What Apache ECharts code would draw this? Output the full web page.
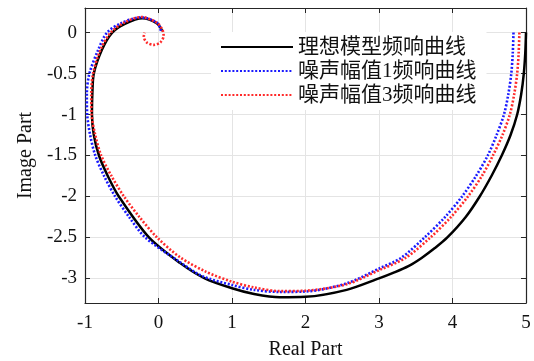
<!DOCTYPE html>
<html><head><meta charset="utf-8">
<script src="https://cdn.jsdelivr.net/npm/echarts@6/dist/echarts.min.js"></script>
<style>html,body{margin:0;padding:0;background:#fff}#c{width:534px;height:361px}</style>
</head><body><div id="c"></div>
<script>
const seriesNames = ['理想模型频响曲线', '噪声幅值1频响曲线', '噪声幅值3频响曲线'];

const idealX = [5.00, 4.99, 4.97, 4.935, 4.88, 4.79, 4.67, 4.53, 4.37, 4.18, 3.93, 3.76, 3.58, 3.40, 3.20, 3.00, 2.56, 2.00, 1.65, 1.30, 1.00, 0.63, 0.29, -0.13, -0.54, -0.69, -0.81, -0.88, -0.905, -0.90, -0.88, -0.77, -0.63, -0.45, -0.22, -0.02, 0.05];
const idealY = [0.00, -0.25, -0.50, -0.75, -1.00, -1.25, -1.50, -1.75, -2.00, -2.25, -2.50, -2.63, -2.75, -2.85, -2.93, -3.00, -3.14, -3.225, -3.23, -3.19, -3.12, -3.00, -2.81, -2.50, -2.00, -1.75, -1.50, -1.25, -1.00, -0.75, -0.50, -0.21, 0.00, 0.11, 0.174, 0.11, 0.02];

const noise1X = [4.83, 4.82, 4.80, 4.76, 4.70, 4.60, 4.48, 4.32, 4.13, 3.90, 3.62, 3.30, 3.00, 2.56, 2.00, 1.65, 1.30, 1.00, 0.59, 0.29, -0.18, -0.40, -0.59, -0.74, -0.86, -0.93, -0.97, -0.975, -0.94, -0.82, -0.70, -0.52, -0.24, -0.02, 0.04];
const noise1Y = [0.00, -0.25, -0.50, -0.75, -1.00, -1.25, -1.50, -1.75, -2.00, -2.25, -2.50, -2.75, -2.88, -3.06, -3.16, -3.165, -3.14, -3.08, -2.97, -2.80, -2.50, -2.25, -2.00, -1.75, -1.50, -1.25, -1.00, -0.75, -0.50, -0.21, 0.00, 0.11, 0.186, 0.12, 0.00];

const noise3X = [4.91, 4.90, 4.88, 4.84, 4.78, 4.68, 4.55, 4.40, 4.21, 3.98, 3.70, 3.36, 3.00, 2.56, 2.00, 1.65, 1.30, 1.00, 0.65, 0.29, -0.02, -0.26, -0.47, -0.64, -0.78, -0.86, -0.91, -0.915, -0.89, -0.79, -0.65, -0.47, -0.23, -0.02, 0.05, 0.07, 0.025, -0.065, -0.16, -0.20, -0.19];
const noise3Y = [0.00, -0.25, -0.50, -0.75, -1.00, -1.25, -1.50, -1.75, -2.00, -2.25, -2.50, -2.75, -2.90, -3.07, -3.15, -3.155, -3.11, -3.04, -2.92, -2.74, -2.50, -2.25, -2.00, -1.75, -1.50, -1.25, -1.00, -0.75, -0.50, -0.21, 0.00, 0.12, 0.19, 0.12, 0.04, -0.04, -0.12, -0.15, -0.12, -0.05, 0.00];

function pairs(xs, ys) { return xs.map((x, i) => [x, ys[i]]); }

const serif = '"Liberation Serif", "Times New Roman", serif';
const cjk = '"Liberation Serif", "Noto Sans CJK SC", serif';
const frame = { show: true, onZero: false, lineStyle: { color: '#262626', width: 1.2 } };
const tick = { show: true, inside: true, length: 5, lineStyle: { color: '#262626', width: 1 } };
const grid = { show: true, lineStyle: { color: '#e4e4e4', width: 1 } };

const chart = echarts.init(document.getElementById('c'), null, { renderer: 'canvas' });
chart.setOption({
  animation: false,
  backgroundColor: '#fff',
  grid: { left: 85, right: 8, top: 8, bottom: 58, containLabel: false, outerBoundsMode: 'none' },
  xAxis: [
    { type: 'value', min: -1, max: 5, interval: 1, position: 'bottom',
      axisLine: frame, axisTick: tick, splitLine: grid,
      axisLabel: { fontFamily: serif, fontSize: 19, color: '#111', margin: 11 },
      name: 'Real Part', nameLocation: 'middle', nameGap: 37,
      nameTextStyle: { fontFamily: serif, fontSize: 20, color: '#111' } },
    { type: 'value', min: -1, max: 5, interval: 1, position: 'top',
      axisLine: frame, axisTick: tick, splitLine: { show: false }, axisLabel: { show: false } }
  ],
  yAxis: [
    { type: 'value', min: -3.3, max: 0.3, splitNumber: 7, position: 'left',
      axisLine: frame, axisTick: tick, splitLine: grid,
      axisLabel: { fontFamily: serif, fontSize: 19, color: '#111', margin: 8, showMinLabel: false, showMaxLabel: false },
      name: 'Image Part', nameLocation: 'middle', nameGap: 48,
      nameTextStyle: { fontFamily: serif, fontSize: 20, color: '#111' } },
    { type: 'value', min: -3.3, max: 0.3, splitNumber: 7, position: 'right',
      axisLine: frame, axisTick: tick, splitLine: { show: false }, axisLabel: { show: false } }
  ],
  legend: {
    orient: 'vertical', left: 211, top: 32,
    backgroundColor: '#fff', padding: [4, 10, 4, 9],
    itemWidth: 72, itemHeight: 14, itemGap: 2,
    itemStyle: { opacity: 0 },
    textStyle: { fontFamily: cjk, fontSize: 21, color: '#111', lineHeight: 22 },
    data: seriesNames
  },
  series: [
    { name: seriesNames[0], type: 'line', data: pairs(idealX, idealY), smooth: 0.3, symbol: 'none',
      lineStyle: { color: '#000', width: 2.5 }, itemStyle: { color: '#000' } },
    { name: seriesNames[1], type: 'line', data: pairs(noise1X, noise1Y), smooth: 0.3, symbol: 'none',
      lineStyle: { color: '#1a1aff', width: 2.6, type: [2, 1.8] }, itemStyle: { color: '#1a1aff' } },
    { name: seriesNames[2], type: 'line', data: pairs(noise3X, noise3Y), smooth: 0.3, symbol: 'none',
      lineStyle: { color: '#ff2a2a', width: 2.6, type: [2, 1.8] }, itemStyle: { color: '#ff2a2a' } }
  ]
});
</script>
</body></html>
